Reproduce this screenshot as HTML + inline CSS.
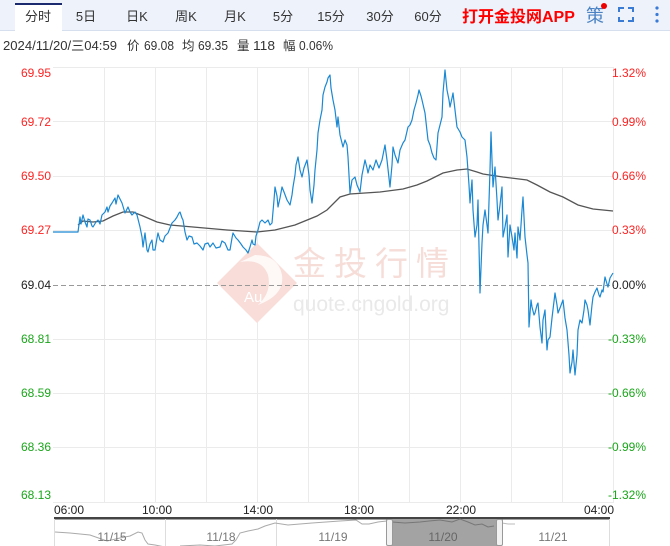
<!DOCTYPE html>
<html><head><meta charset="utf-8"><style>
html,body{margin:0;padding:0;background:#fff;width:670px;height:546px;overflow:hidden}
svg{display:block}
text{font-family:"Liberation Sans","Noto Sans CJK SC",sans-serif}
</style></head><body>
<svg width="670" height="546" viewBox="0 0 670 546" xmlns="http://www.w3.org/2000/svg">
<!-- header -->
<rect x="0" y="0" width="670" height="30" fill="#eef3fb"/>
<line x1="0" y1="30.5" x2="670" y2="30.5" stroke="#d6dfee" stroke-width="1"/>
<rect x="15" y="3" width="47" height="28" fill="#fff"/>
<rect x="15" y="3" width="47" height="2" fill="#1b2a6e"/>
<g font-size="13" fill="#333" text-anchor="middle">
<text x="38" y="21">分时</text>
<text x="86" y="21">5日</text>
<text x="137" y="21">日K</text>
<text x="186" y="21">周K</text>
<text x="235" y="21">月K</text>
<text x="283" y="21">5分</text>
<text x="331" y="21">15分</text>
<text x="380" y="21">30分</text>
<text x="428" y="21">60分</text>
</g>
<text x="462" y="22" font-size="16" font-weight="bold" fill="#f00">打开金投网APP</text>
<text x="586" y="22" font-size="18" fill="#4a82c4">策</text>
<circle cx="604" cy="6" r="3" fill="#e00"/>
<g stroke="#3a7bd5" stroke-width="2" fill="none">
<path d="M619 12V8h5M628 8h5v4M633 17v4h-5M624 21h-5v-4"/>
</g>
<g fill="#3a7bd5"><circle cx="657" cy="8" r="1.6"/><circle cx="657" cy="14.5" r="1.6"/><circle cx="657" cy="21" r="1.6"/></g>
<!-- info line -->
<g font-size="12.5" fill="#333">
<text x="3" y="50" textLength="114" lengthAdjust="spacingAndGlyphs">2024/11/20/三04:59</text>
<text x="127" y="50">价</text>
<text x="144" y="50" textLength="30" lengthAdjust="spacingAndGlyphs">69.08</text>
<text x="182" y="50">均</text>
<text x="198" y="50" textLength="30" lengthAdjust="spacingAndGlyphs">69.35</text>
<text x="237" y="50">量</text>
<text x="253" y="50" textLength="22" lengthAdjust="spacingAndGlyphs">118</text>
<text x="283" y="50">幅</text>
<text x="299" y="50" textLength="34" lengthAdjust="spacingAndGlyphs">0.06%</text>
</g>
<!-- grid -->
<g stroke="#ebebeb" stroke-width="1">
<line x1="53" y1="67.5" x2="614" y2="67.5"/>
<line x1="53" y1="121.5" x2="614" y2="121.5"/>
<line x1="53" y1="176.5" x2="614" y2="176.5"/>
<line x1="53" y1="230.5" x2="614" y2="230.5"/>
<line x1="53" y1="339.5" x2="614" y2="339.5"/>
<line x1="53" y1="393.5" x2="614" y2="393.5"/>
<line x1="53" y1="447.5" x2="614" y2="447.5"/>
<line x1="53" y1="502.5" x2="614" y2="502.5"/>
<line x1="104.5" y1="67" x2="104.5" y2="502"/>
<line x1="155.5" y1="67" x2="155.5" y2="502"/>
<line x1="206.5" y1="67" x2="206.5" y2="502"/>
<line x1="257.5" y1="67" x2="257.5" y2="502"/>
<line x1="308.5" y1="67" x2="308.5" y2="502"/>
<line x1="358.5" y1="67" x2="358.5" y2="502"/>
<line x1="409.5" y1="67" x2="409.5" y2="502"/>
<line x1="460.5" y1="67" x2="460.5" y2="502"/>
<line x1="511.5" y1="67" x2="511.5" y2="502"/>
<line x1="562.5" y1="67" x2="562.5" y2="502"/>
<line x1="613.5" y1="67" x2="613.5" y2="502"/>
</g>
<!-- watermark -->
<g>
<path d="M257 243 L297 283 L257 323 L217 283 Z" fill="#f8ddd8"/>
<path d="M240 262 Q262 258 268 275 Q272 292 258 305 Q285 295 282 275 Q278 255 255 255 Z" fill="#fff" opacity="0.8"/>
<text x="244" y="302" font-size="15" fill="#fff">Au</text>
<text x="293" y="275" font-size="33" fill="#f6ddd8" letter-spacing="8" font-family="'Noto Sans CJK SC',sans-serif">金投行情</text>
<text x="293" y="311" font-size="21" fill="#e9e9e9">quote.cngold.org</text>
</g>
<line x1="53" y1="285.5" x2="614" y2="285.5" stroke="#999" stroke-width="1" stroke-dasharray="5,3"/>
<!-- left labels -->
<g font-size="12" text-anchor="end">
<text x="51" y="77" fill="#f22">69.95</text>
<text x="51" y="126" fill="#f22">69.72</text>
<text x="51" y="180" fill="#f22">69.50</text>
<text x="51" y="234" fill="#f22">69.27</text>
<text x="51" y="289" fill="#222">69.04</text>
<text x="51" y="343" fill="#1aa61a">68.81</text>
<text x="51" y="397" fill="#1aa61a">68.59</text>
<text x="51" y="451" fill="#1aa61a">68.36</text>
<text x="51" y="499" fill="#1aa61a">68.13</text>
</g>
<g font-size="12" text-anchor="end">
<text x="646" y="77" fill="#f22">1.32%</text>
<text x="646" y="126" fill="#f22">0.99%</text>
<text x="646" y="180" fill="#f22">0.66%</text>
<text x="646" y="234" fill="#f22">0.33%</text>
<text x="646" y="289" fill="#222">0.00%</text>
<text x="646" y="343" fill="#1aa61a">-0.33%</text>
<text x="646" y="397" fill="#1aa61a">-0.66%</text>
<text x="646" y="451" fill="#1aa61a">-0.99%</text>
<text x="646" y="499" fill="#1aa61a">-1.32%</text>
</g>
<!-- avg line -->
<polyline fill="none" stroke="#555" stroke-width="1.3" points="78,225 83,221 93,222 103,221 113,216 123,212 133,212 143,216 157,222 170,225 193,227 227,230 257,232 275,230 295,225 317,216 327,210 340,197 350,194 380,192 403,189 417,185 427,181 443,173 457,170 467,169 477,172 483,174 503,177 527,180 537,185 550,192 563,197 578,205 593,209 613,211"/>
<!-- price line -->
<polyline fill="none" stroke="#1a88d2" stroke-width="1.2" stroke-linejoin="round" points="53,232 78,232 80,217 81,224 83,215 85,222 87,227 88,219 90,220 92,226 93,227 96,222 98,220 100,224 102,215 105,212 107,207 108,212 110,206 112,203 115,198 116,204 118,195 120,199 122,203 125,213 128,207 130,212 132,215 135,212 137,215 140,227 142,237 143,247 145,233 147,250 148,252 150,244 152,240 153,250 155,250 157,238 158,233 160,240 163,242 165,236 168,233 170,228 172,223 175,220 177,217 179,213 180,212 182,218 183,220 185,232 187,240 189,236 192,237 194,244 197,243 200,246 203,250 205,244 208,243 210,247 213,243 216,248 220,247 222,241 225,243 228,250 230,250 232,238 233,233 236,238 238,240 241,244 243,247 246,250 248,253 250,247 252,240 253,244 255,245 256,236 258,230 260,222 262,220 265,223 268,220 270,225 272,223 274,200 275,187 277,196 278,207 280,198 282,187 284,192 287,200 290,205 292,195 293,187 295,175 296,165 298,157 300,170 302,177 304,168 307,160 309,175 310,190 312,203 314,185 315,170 317,150 318,133 320,120 322,110 323,95 325,87 327,82 328,78 330,75 331,88 333,100 335,110 337,127 338,117 340,135 343,147 345,140 347,145 348,157 350,193 352,180 355,177 357,185 360,192 362,175 365,160 367,168 368,173 370,165 373,170 376,160 379,168 382,160 385,145 387,160 390,187 392,165 393,147 395,155 398,163 400,150 403,143 405,140 408,127 410,125 412,120 414,110 416,103 418,95 419,90 421,96 422,100 425,113 428,140 430,145 432,153 434,158 436,160 438,133 440,125 442,117 443,93 445,70 447,90 449,100 450,107 452,98 453,93 455,110 457,127 460,132 462,137 465,140 467,157 469,185 470,203 472,180 473,210 475,237 477,225 478,200 480,293 482,243 483,225 485,210 487,225 488,233 490,170 491,132 492,160 493,187 495,167 497,200 498,220 500,205 502,187 503,237 505,227 507,215 508,257 510,225 512,237 514,250 515,233 517,258 518,227 520,240 522,210 523,197 525,237 527,255 528,263 529,327 531,300 532,307 534,315 535,313 537,305 538,303 540,327 542,343 543,320 545,310 547,350 548,340 550,337 552,318 555,293 557,305 558,313 560,308 563,300 565,318 567,330 569,355 570,373 572,362 573,350 575,375 577,355 578,330 580,320 582,323 584,310 585,300 587,305 588,310 590,325 592,305 593,297 595,292 597,288 599,295 600,297 602,290 603,292 605,277 607,284 608,287 610,278 613,273"/>
<!-- time axis -->
<g font-size="12" fill="#222">
<text x="54" y="514">06:00</text>
<text x="157" y="514" text-anchor="middle">10:00</text>
<text x="258" y="514" text-anchor="middle">14:00</text>
<text x="359" y="514" text-anchor="middle">18:00</text>
<text x="461" y="514" text-anchor="middle">22:00</text>
<text x="614" y="514" text-anchor="end">04:00</text>
</g>
<!-- navigator -->
<rect x="54" y="517" width="556" height="2.5" fill="#444"/>
<g stroke="#ddd" stroke-width="1">
<line x1="54.5" y1="519" x2="54.5" y2="546"/>
<line x1="165.5" y1="519" x2="165.5" y2="546"/>
<line x1="276.5" y1="519" x2="276.5" y2="546"/>
<line x1="609.5" y1="519" x2="609.5" y2="546"/>
</g>
<rect x="389" y="519" width="110" height="27" fill="#a3a3a3"/>
<polyline fill="none" stroke="#aaa" stroke-width="1" points="55,532 70,533 90,535 107,541 120,538 130,536 138,532 142,533 145,540 148,544 155,545 165,547"/>
<polyline fill="none" stroke="#aaa" stroke-width="1" points="180,546 200,545 215,546 232,544 236,540 240,533 248,531 258,529 265,526 275,523 288,525 300,524 312,523 326,522 340,521 356,520 362,524 369,524 378,522 387,521"/>
<polyline fill="none" stroke="#777" stroke-width="1" points="392,522 405,523 420,522 429,521 440,520 452,522 460,519 468,522 475,525 482,524 488,527 494,526"/>
<polyline fill="none" stroke="#bbb" stroke-width="1" points="502,523 508,524 515,524"/>
<rect x="386.5" y="519.5" width="6" height="26" rx="1.5" fill="#f2f2f2" stroke="#999"/>
<rect x="496.5" y="519.5" width="6" height="26" rx="1.5" fill="#f2f2f2" stroke="#999"/>
<g font-size="12" fill="#777" text-anchor="middle">
<text x="112" y="541">11/15</text>
<text x="221" y="541">11/18</text>
<text x="333" y="541">11/19</text>
<text x="443" y="541" fill="#666">11/20</text>
<text x="553" y="541">11/21</text>
</g>
</svg>
</body></html>
